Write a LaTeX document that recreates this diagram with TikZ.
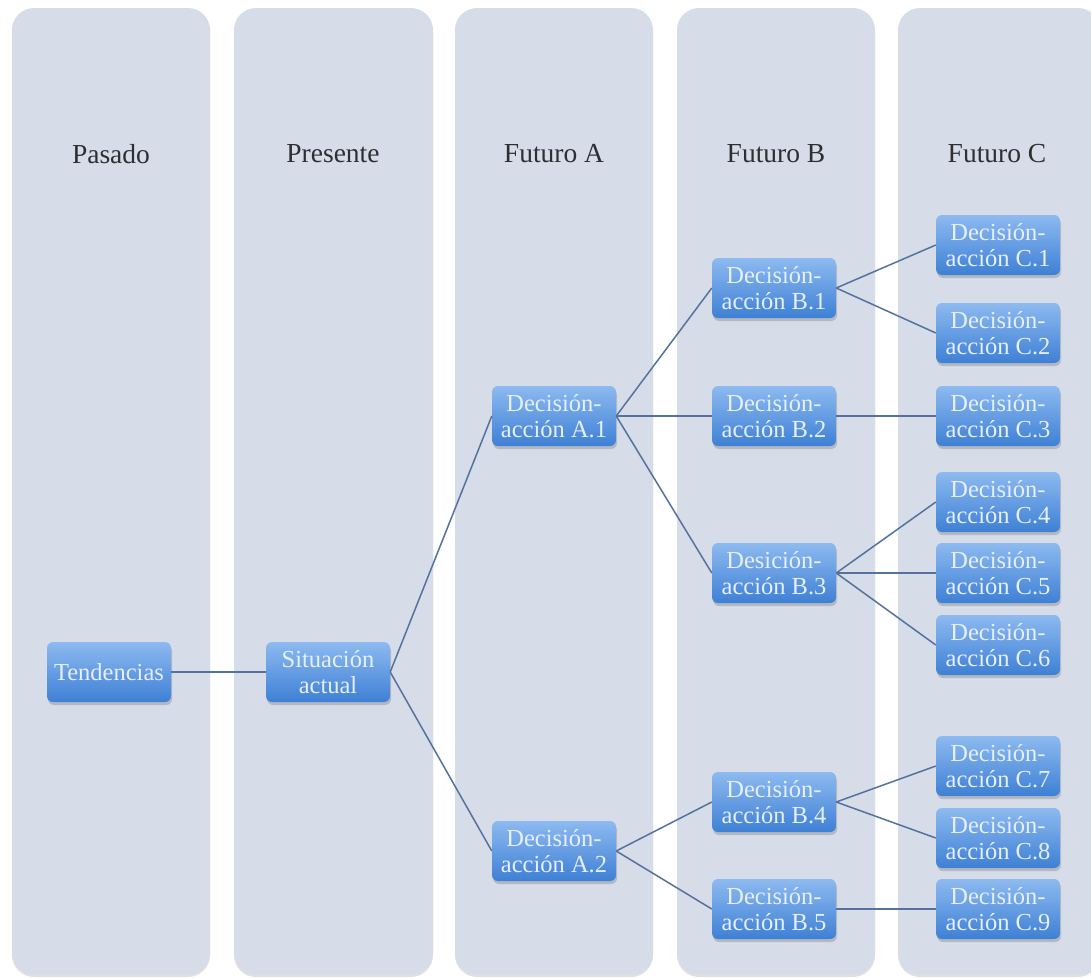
\documentclass[tikz,border=0pt]{standalone}
\usepackage{fontspec}
\setmainfont{Liberation Serif}
\usetikzlibrary{shadows}
\definecolor{colfill}{HTML}{D6DDE9}
\definecolor{boxtop}{HTML}{8DBAF0}
\definecolor{boxbot}{HTML}{3E80D5}
\definecolor{boxtext}{HTML}{E6EFFB}
\definecolor{linkcol}{HTML}{54729E}
\definecolor{headtext}{HTML}{2E2E33}
\tikzset{
  colband/.style={fill=colfill, draw=none, rounded corners=22pt,
    drop shadow={shadow xshift=0pt, shadow yshift=-2pt, opacity=0.12, fill=black}},
  colhead/.style={text=headtext, font=\fontsize{27.5}{30}\selectfont},
  dec/.style={rectangle, rounded corners=6pt, top color=boxtop, bottom color=boxbot,
    draw=none, minimum width=124pt, minimum height=60pt, inner sep=2pt,
    align=center, text=boxtext, font=\fontsize{24.5}{26}\selectfont,
    drop shadow={shadow xshift=1pt, shadow yshift=-3pt, opacity=0.25, fill=black!70}},
  link/.style={draw=linkcol, line width=1.5pt}
}
\begin{document}
\begin{tikzpicture}[x=1pt, y=-1pt]
\useasboundingbox (0,0) rectangle (1091,977);
\fill[white] (0,0) rectangle (1091,977);
\begin{scope}
\clip (0,0) rectangle (1091,977);
% five time bands
\path[colband] (12,8) rectangle (210,975);
\path[colband] (234,8) rectangle (433,975);
\path[colband] (455,8) rectangle (653,975);
\path[colband] (677,8) rectangle (875,975);
\path[colband] (898,8) rectangle (1100,975);
\end{scope}

% band titles
\node[colhead] (hpas) at (111,154) {Pasado};
\node[colhead] (hpre) at (333,154) {Presente};
\node[colhead] (hfa)  at (554,154) {Futuro A};
\node[colhead] (hfb)  at (776,154) {Futuro B};
\node[colhead] (hfc)  at (997,154) {Futuro C};

% decision tree
\node[dec] (ten) at (109,672) {Tendencias};
\node[dec] (sit) at (328,672) {Situación\\actual};

\node[dec] (a1) at (554,416) {Decisión-\\acción A.1};
\node[dec] (a2) at (554,851) {Decisión-\\acción A.2};

\node[dec] (b1) at (774,288) {Decisión-\\acción B.1};
\node[dec] (b2) at (774,416) {Decisión-\\acción B.2};
\node[dec] (b3) at (774,573) {Desición-\\acción B.3};
\node[dec] (b4) at (774,802) {Decisión-\\acción B.4};
\node[dec] (b5) at (774,909) {Decisión-\\acción B.5};

\node[dec] (c1) at (998,245) {Decisión-\\acción C.1};
\node[dec] (c2) at (998,333) {Decisión-\\acción C.2};
\node[dec] (c3) at (998,416) {Decisión-\\acción C.3};
\node[dec] (c4) at (998,502) {Decisión-\\acción C.4};
\node[dec] (c5) at (998,573) {Decisión-\\acción C.5};
\node[dec] (c6) at (998,645) {Decisión-\\acción C.6};
\node[dec] (c7) at (998,766) {Decisión-\\acción C.7};
\node[dec] (c8) at (998,838) {Decisión-\\acción C.8};
\node[dec] (c9) at (998,909) {Decisión-\\acción C.9};

% connectors
\draw[link] (ten.east) -- (sit.west);
\draw[link] (sit.east) -- (a1.west);
\draw[link] (sit.east) -- (a2.west);
\draw[link] (a1.east) -- (b1.west);
\draw[link] (a1.east) -- (b2.west);
\draw[link] (a1.east) -- (b3.west);
\draw[link] (a2.east) -- (b4.west);
\draw[link] (a2.east) -- (b5.west);
\draw[link] (b1.east) -- (c1.west);
\draw[link] (b1.east) -- (c2.west);
\draw[link] (b2.east) -- (c3.west);
\draw[link] (b3.east) -- (c4.west);
\draw[link] (b3.east) -- (c5.west);
\draw[link] (b3.east) -- (c6.west);
\draw[link] (b4.east) -- (c7.west);
\draw[link] (b4.east) -- (c8.west);
\draw[link] (b5.east) -- (c9.west);
\end{tikzpicture}
\end{document}
